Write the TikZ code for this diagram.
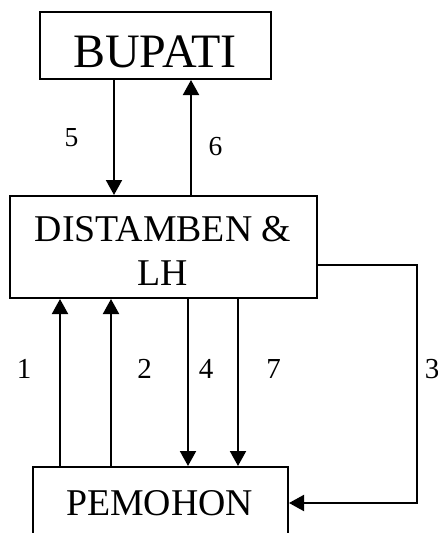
\documentclass[tikz,border=0pt]{standalone}
\usepackage{fontspec}
\setmainfont{Liberation Serif}
\usetikzlibrary{arrows.meta}
\begin{document}
\begin{tikzpicture}[x=1pt,y=-1pt,
  box/.style={draw,line width=2pt,inner sep=0pt},
  txt/.style={anchor=base,inner sep=0pt,font=\fontsize{37.8}{43}\selectfont},
  arr/.style={line width=2pt,-{Triangle[length=15pt,width=16pt]}},
  lbl/.style={anchor=base,font=\fontsize{29}{32}\selectfont,inner sep=0pt}]
\useasboundingbox (0,0) rectangle (438,533);
\clip (0,0) rectangle (438,533);
\node[box,minimum width=231pt,minimum height=67pt] (bup) at (155.5,45.5) {};
\node[box,minimum width=307pt,minimum height=102pt] (dist) at (163.5,247) {};
\node[box,minimum width=255pt,minimum height=72pt] (pem) at (160.5,503) {};
\node[txt,font=\fontsize{48}{52}\selectfont] (tbup) at (155,67) {BUPATI};
\node[txt] (tdist1) at (163,241.7) {DISTAMBEN \&};
\node[txt] (tdist2) at (163,285) {LH};
\node[txt] (tpem) at (159.5,515) {PEMOHON};
% 5 and 6
\draw[arr] (bup.south -| 114,0) -- (dist.north -| 114,0);
\draw[arr] (dist.north -| 191,0) -- (bup.south -| 191,0);
% 1 and 2
\draw[arr] (pem.north -| 60,0) -- (dist.south -| 60,0);
\draw[arr] (pem.north -| 111,0) -- (dist.south -| 111,0);
% 4 and 7
\draw[arr] (dist.south -| 188,0) -- (pem.north -| 188,0);
\draw[arr] (dist.south -| 238,0) -- (pem.north -| 238,0);
% 3
\coordinate (c3a) at (417,265);
\coordinate (c3b) at (417,503);
\draw[arr] (dist.east |- c3a) -- (c3a) -- (c3b) -- (pem.east);
% labels
\node[lbl,font=\fontsize{27.5}{30}\selectfont] (l5) at (71.5,146.5) {5};
\node[lbl,font=\fontsize{27.5}{30}\selectfont] (l6) at (215.5,155) {6};
\node[lbl] (l1) at (24,378) {1};
\node[lbl] (l2) at (144.5,378) {2};
\node[lbl] (l4) at (206,378) {4};
\node[lbl] (l7) at (273.5,378) {7};
\node[lbl] (l3) at (432,378) {3};
\end{tikzpicture}
\end{document}
